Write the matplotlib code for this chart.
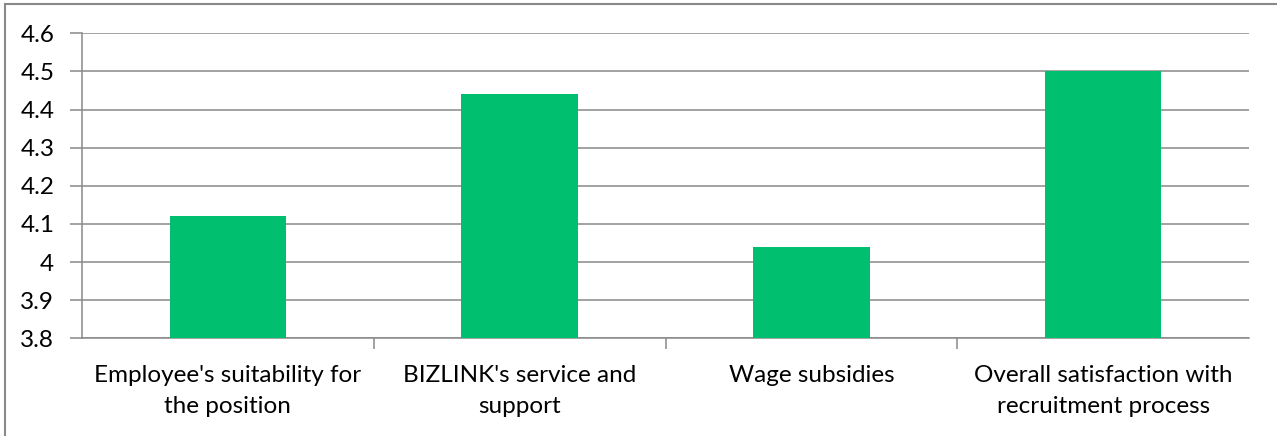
import matplotlib
matplotlib.use('Agg')
import matplotlib.pyplot as plt
from matplotlib.patches import Rectangle

# survey scores per category
categories = ["Employee's suitability for\nthe position",
              "BIZLINK's service and\nsupport",
              "Wage subsidies",
              "Overall satisfaction with\nrecruitment process"]
scores = [4.12, 4.44, 4.04, 4.5]
yticks = [3.8, 3.9, 4.0, 4.1, 4.2, 4.3, 4.4, 4.5, 4.6]
ytick_labels = ['3.8', '3.9', '4', '4.1', '4.2', '4.3', '4.4', '4.5', '4.6']

plt.rcParams['font.family'] = ['Lato', 'DejaVu Sans']
W, H = 1277, 436
fig = plt.figure(figsize=(W/100, H/100), dpi=100)
ax = fig.add_axes([82/W, 1-338.3/H, (1249-82)/W, (338.3-33.3)/H])

grey = '#898989'
fs = 17.5
x = list(range(len(categories)))
ax.bar(x, scores, width=0.4, color='#00BF6F', zorder=3)
ax.set_xlim(-0.5, len(categories)-0.5)
ax.set_ylim(3.8, 4.6)
ax.set_yticks(yticks)
ax.set_yticklabels(ytick_labels, fontsize=fs)
ax.yaxis.grid(True, color=grey, linewidth=1.1, zorder=0)

# category boundaries as x ticks, labels at centres
ax.set_xticks([i + 0.5 for i in range(len(categories)-1)])
ax.set_xticklabels([])
ax.set_xticks(x, minor=True)
ax.set_xticklabels(categories, minor=True, fontsize=fs, linespacing=1.6)
ax.tick_params(axis='x', which='minor', length=0, pad=19)
ax.tick_params(axis='x', which='major', length=8, color=grey, width=1.1)
ax.tick_params(axis='y', length=9, color=grey, width=1.1, pad=11)

for s in ['top', 'right']:
    ax.spines[s].set_visible(False)
for s in ['left', 'bottom']:
    ax.spines[s].set_color(grey)
    ax.spines[s].set_linewidth(1.1)

# outer chart frame
fig.patches.append(Rectangle((5/W, -0.1), 1.2, 1.1 - 4/H, transform=fig.transFigure,
                             fill=False, edgecolor=grey, linewidth=1.5))

fig.savefig('out.png', dpi=100)
